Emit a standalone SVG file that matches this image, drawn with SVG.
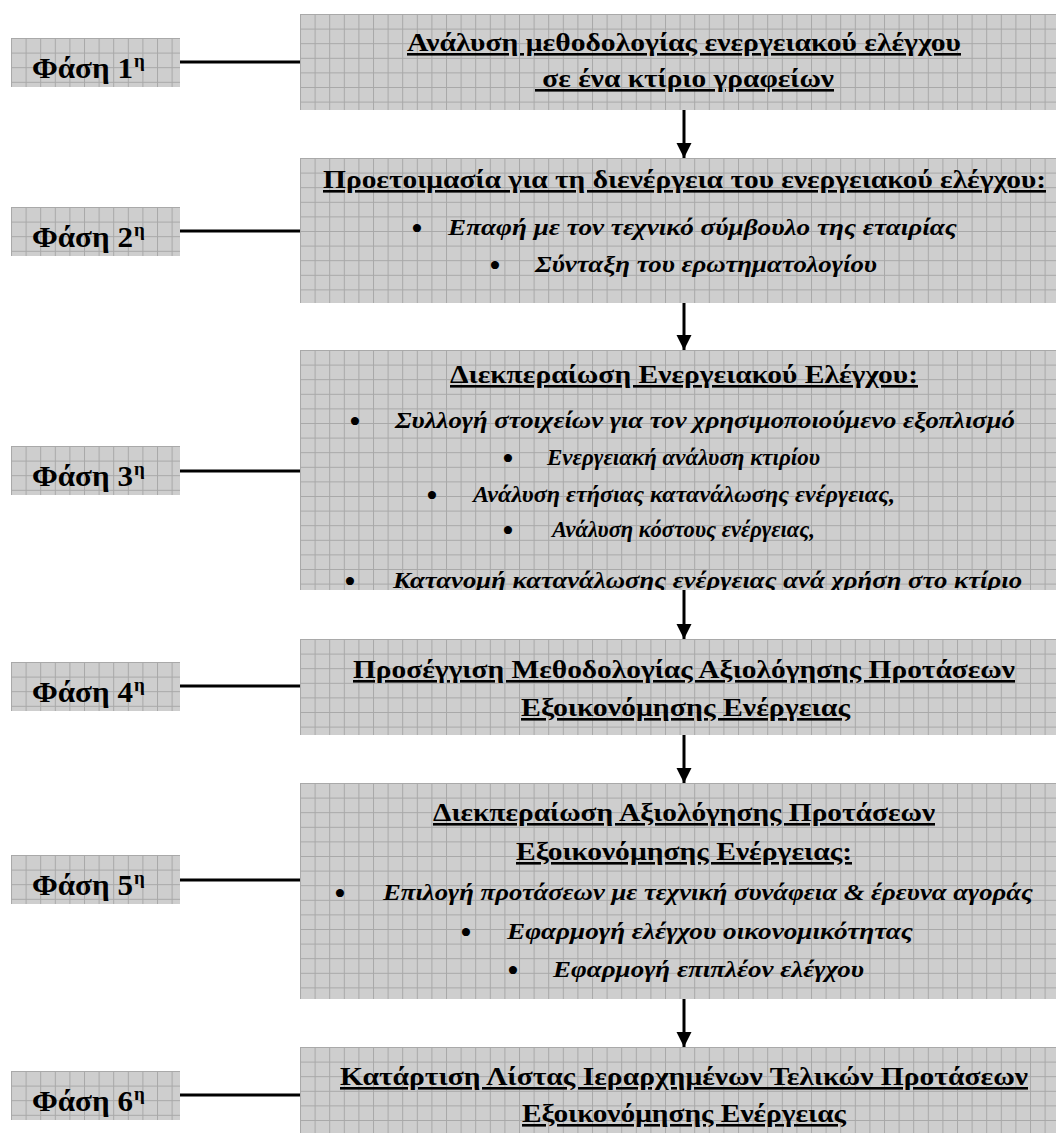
<svg xmlns="http://www.w3.org/2000/svg" width="1056" height="1136" viewBox="0 0 1056 1136">
<style>
.lbl{font-family:"Liberation Serif","Times New Roman",serif;font-weight:bold;font-size:30px;fill:#000}
.sup{font-size:19px}
.t{font-family:"Liberation Serif","Times New Roman",serif;font-weight:bold;font-size:26px;text-decoration:underline;text-decoration-thickness:3px;text-underline-offset:4px;text-anchor:middle;fill:#000}
.b{font-family:"Liberation Serif","Times New Roman",serif;font-weight:bold;font-style:italic;font-size:23px;fill:#000}
.dot{font-family:"Liberation Serif","Times New Roman",serif;font-size:34px;text-anchor:middle;fill:#000}
.conn{stroke:#000;stroke-width:3;fill:none}
.bg{fill:url(#grid)}
</style>
<defs>
<pattern id="grid" patternUnits="userSpaceOnUse" width="14.6" height="14.6">
<rect width="14.6" height="14.6" fill="#cecece"/>
<path d="M0 0.5H14.6M0.5 0V14.6" stroke="#a8a8a8" stroke-width="1" fill="none"/>
</pattern>
<marker id="ah" markerUnits="userSpaceOnUse" markerWidth="16" markerHeight="16" refX="15" refY="7.5" orient="auto">
<path d="M0 0L15 7.5L0 15z" fill="#000"/>
</marker>
<clipPath id="c3"><rect x="0" y="0" width="756" height="240"/></clipPath>
</defs>
<rect width="1056" height="1136" fill="#fff"/>

<g id="connectors">
<line class="conn" x1="180" y1="62" x2="300" y2="62"/>
<line class="conn" x1="180" y1="231" x2="300" y2="231"/>
<line class="conn" x1="180" y1="471" x2="300" y2="471"/>
<line class="conn" x1="180" y1="686" x2="300" y2="686"/>
<line class="conn" x1="180" y1="880" x2="300" y2="880"/>
<line class="conn" x1="180" y1="1095" x2="300" y2="1095"/>
<line class="conn" x1="684" y1="110" x2="684" y2="158" marker-end="url(#ah)"/>
<line class="conn" x1="684" y1="303" x2="684" y2="350" marker-end="url(#ah)"/>
<line class="conn" x1="684" y1="590" x2="684" y2="639" marker-end="url(#ah)"/>
<line class="conn" x1="684" y1="735" x2="684" y2="783" marker-end="url(#ah)"/>
<line class="conn" x1="684" y1="999" x2="684" y2="1047" marker-end="url(#ah)"/>
</g>

<g id="phase1" transform="translate(11,38)"><rect class="bg" width="169" height="49"/><text class="lbl" x="21" y="40"><tspan textLength="101" lengthAdjust="spacingAndGlyphs">Φάση 1</tspan><tspan class="sup" x="123" dy="-11">η</tspan></text></g>
<g id="phase2" transform="translate(11,207)"><rect class="bg" width="169" height="49"/><text class="lbl" x="21" y="40"><tspan textLength="101" lengthAdjust="spacingAndGlyphs">Φάση 2</tspan><tspan class="sup" x="123" dy="-11">η</tspan></text></g>
<g id="phase3" transform="translate(11,446)"><rect class="bg" width="169" height="49"/><text class="lbl" x="21" y="40"><tspan textLength="101" lengthAdjust="spacingAndGlyphs">Φάση 3</tspan><tspan class="sup" x="123" dy="-11">η</tspan></text></g>
<g id="phase4" transform="translate(11,662)"><rect class="bg" width="169" height="49"/><text class="lbl" x="21" y="40"><tspan textLength="101" lengthAdjust="spacingAndGlyphs">Φάση 4</tspan><tspan class="sup" x="123" dy="-11">η</tspan></text></g>
<g id="phase5" transform="translate(11,855)"><rect class="bg" width="169" height="49"/><text class="lbl" x="21" y="40"><tspan textLength="101" lengthAdjust="spacingAndGlyphs">Φάση 5</tspan><tspan class="sup" x="123" dy="-11">η</tspan></text></g>
<g id="phase6" transform="translate(11,1071)"><rect class="bg" width="169" height="49"/><text class="lbl" x="21" y="40"><tspan textLength="101" lengthAdjust="spacingAndGlyphs">Φάση 6</tspan><tspan class="sup" x="123" dy="-11">η</tspan></text></g>

<g id="step1" transform="translate(300,14)">
<rect class="bg" width="756" height="96"/>
<text class="t" x="384" y="37" textLength="554" lengthAdjust="spacingAndGlyphs">Ανάλυση μεθοδολογίας ενεργειακού ελέγχου</text>
<text class="t" x="384.5" y="73" textLength="299" lengthAdjust="spacingAndGlyphs" xml:space="preserve"> σε ένα κτίριο γραφείων</text>
</g>

<g id="step2" transform="translate(300,158)">
<rect class="bg" width="756" height="145"/>
<text class="t" x="384.5" y="30" textLength="723" lengthAdjust="spacingAndGlyphs">Προετοιμασία για τη διενέργεια του ενεργειακού ελέγχου:</text>
<text class="dot" x="117" y="82">•</text><text class="b" x="148" y="77" textLength="509" lengthAdjust="spacingAndGlyphs">Επαφή με τον τεχνικό σύμβουλο της εταιρίας</text>
<text class="dot" x="195" y="119">•</text><text class="b" x="235" y="114" textLength="342" lengthAdjust="spacingAndGlyphs">Σύνταξη του ερωτηματολογίου</text>
</g>

<g id="step3" transform="translate(300,350)">
<rect class="bg" width="756" height="240"/>
<g clip-path="url(#c3)">
<text class="t" x="384" y="33" textLength="468" lengthAdjust="spacingAndGlyphs">Διεκπεραίωση Ενεργειακού Ελέγχου:</text>
<text class="dot" x="55" y="83">•</text><text class="b" x="95" y="78" textLength="620" lengthAdjust="spacingAndGlyphs">Συλλογή στοιχείων για τον χρησιμοποιούμενο εξοπλισμό</text>
<text class="dot" x="208" y="120">•</text><text class="b" x="247" y="115" textLength="273" lengthAdjust="spacingAndGlyphs">Ενεργειακή ανάλυση κτιρίου</text>
<text class="dot" x="132" y="157">•</text><text class="b" x="173" y="152" textLength="422" lengthAdjust="spacingAndGlyphs">Ανάλυση ετήσιας κατανάλωσης ενέργειας,</text>
<text class="dot" x="208" y="192">•</text><text class="b" x="252" y="187" textLength="263" lengthAdjust="spacingAndGlyphs">Ανάλυση κόστους ενέργειας,</text>
<text class="dot" x="50" y="243">•</text><text class="b" x="93" y="238" textLength="629" lengthAdjust="spacingAndGlyphs">Κατανομή κατανάλωσης ενέργειας ανά χρήση στο κτίριο</text>
</g>
</g>

<g id="step4" transform="translate(300,639)">
<rect class="bg" width="756" height="96"/>
<text class="t" x="384" y="39" textLength="662" lengthAdjust="spacingAndGlyphs">Προσέγγιση Μεθοδολογίας Αξιολόγησης Προτάσεων</text>
<text class="t" x="385.5" y="77" textLength="329" lengthAdjust="spacingAndGlyphs">Εξοικονόμησης Ενέργειας</text>
</g>

<g id="step5" transform="translate(300,783)">
<rect class="bg" width="756" height="216"/>
<text class="t" x="384" y="38" textLength="502" lengthAdjust="spacingAndGlyphs">Διεκπεραίωση Αξιολόγησης Προτάσεων</text>
<text class="t" x="384" y="77" textLength="336" lengthAdjust="spacingAndGlyphs">Εξοικονόμησης Ενέργειας:</text>
<text class="dot" x="40" y="122">•</text><text class="b" x="83" y="117" textLength="650" lengthAdjust="spacingAndGlyphs">Επιλογή προτάσεων με τεχνική συνάφεια &amp; έρευνα αγοράς</text>
<text class="dot" x="166" y="161">•</text><text class="b" x="207" y="156" textLength="406" lengthAdjust="spacingAndGlyphs">Εφαρμογή ελέγχου οικονομικότητας</text>
<text class="dot" x="213" y="199">•</text><text class="b" x="253" y="194" textLength="311" lengthAdjust="spacingAndGlyphs">Εφαρμογή επιπλέον ελέγχου</text>
</g>

<g id="step6" transform="translate(300,1047)">
<rect class="bg" width="756" height="86"/>
<text class="t" x="384" y="38" textLength="688" lengthAdjust="spacingAndGlyphs">Κατάρτιση Λίστας Ιεραρχημένων Τελικών Προτάσεων</text>
<text class="t" x="384" y="75" textLength="324" lengthAdjust="spacingAndGlyphs">Εξοικονόμησης Ενέργειας</text>
</g>
</svg>
